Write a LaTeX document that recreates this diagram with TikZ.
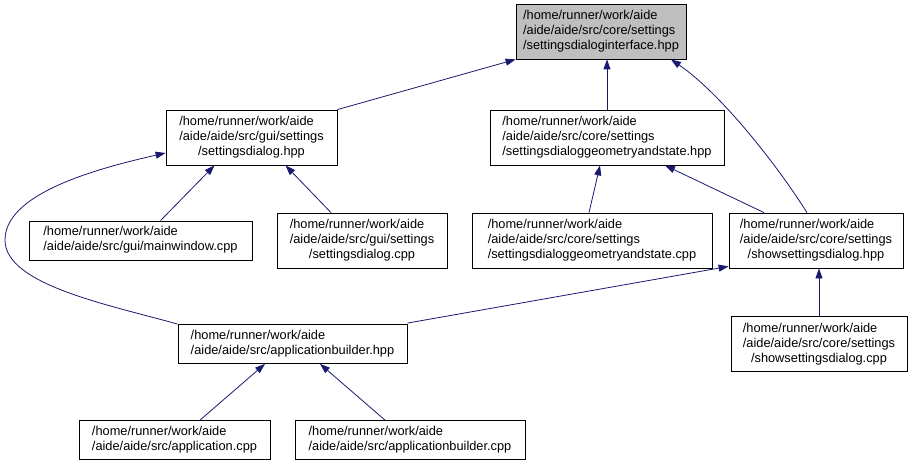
\documentclass[tikz,border=0pt]{standalone}
\usepackage{fontspec}
\setmainfont{Liberation Sans}
\usetikzlibrary{arrows.meta}
\definecolor{edgeblue}{HTML}{191970}
\definecolor{topgray}{HTML}{BFBFBF}
\newcommand{\threel}[3]{\begin{tabular}{@{}l@{}}#1\\#2\\\multicolumn{1}{@{}c@{}}{#3}\end{tabular}}
\newcommand{\twol}[2]{\begin{tabular}{@{}l@{}}#1\\\multicolumn{1}{@{}c@{}}{#2}\end{tabular}}
\tikzset{
  filebox/.style={draw=black, line width=0.8pt, fill=white, inner sep=0pt,
    minimum height=55pt, font=\fontsize{12.8}{15}\selectfont},
  twobox/.style={filebox, minimum height=39pt},
  dep/.style={draw=edgeblue, line width=0.8pt, -{Triangle[length=10pt,width=7pt]}, edgeblue}
}
\begin{document}
\begin{tikzpicture}[x=1pt,y=-1pt]
\useasboundingbox (0,0) rectangle (914,468);
% nodes
\node[filebox, fill=topgray, minimum width=170pt] (top) at (601,31.5)
  {\threel{/home/runner/work/aide}{/aide/aide/src/core/settings}{/settingsdialoginterface.hpp}};
\node[filebox, minimum width=171pt] (sdh) at (251.5,137.5)
  {\threel{/home/runner/work/aide}{/aide/aide/src/gui/settings}{/settingsdialog.hpp}};
\node[filebox, minimum width=234pt] (gash) at (607,137.5)
  {\threel{/home/runner/work/aide}{/aide/aide/src/core/settings}{/settingsdialoggeometryandstate.hpp}};
\node[twobox, minimum width=223pt] (mw) at (140.5,240.5)
  {\twol{/home/runner/work/aide}{/aide/aide/src/gui/mainwindow.cpp}};
\node[filebox, minimum width=170pt] (sdc) at (362,240.5)
  {\threel{/home/runner/work/aide}{/aide/aide/src/gui/settings}{/settingsdialog.cpp}};
\node[filebox, minimum width=240pt] (gasc) at (592,240.5)
  {\threel{/home/runner/work/aide}{/aide/aide/src/core/settings}{/settingsdialoggeometryandstate.cpp}};
\node[filebox, minimum width=174pt] (showh) at (816,240.5)
  {\threel{/home/runner/work/aide}{/aide/aide/src/core/settings}{/showsettingsdialog.hpp}};
\node[twobox, minimum width=229pt] (abh) at (292.5,344)
  {\twol{/home/runner/work/aide}{/aide/aide/src/applicationbuilder.hpp}};
\node[filebox, minimum width=176pt] (showc) at (819,344)
  {\threel{/home/runner/work/aide}{/aide/aide/src/core/settings}{/showsettingsdialog.cpp}};
\node[twobox, minimum width=191pt] (appc) at (174.5,440)
  {\twol{/home/runner/work/aide}{/aide/aide/src/application.cpp}};
\node[twobox, minimum width=230pt] (abc) at (410,440)
  {\twol{/home/runner/work/aide}{/aide/aide/src/applicationbuilder.cpp}};
% edges
\draw[dep] (sdh.north east) -- (top.south west);
\draw[dep] (gash.north) -- (gash.north |- top.south);
\draw[dep] ([xshift=-9pt]showh.north) .. controls (775,162) and (720,93) .. ([xshift=70pt]top.south);
\draw[dep] ([xshift=20pt]mw.north) -- ([xshift=-37pt]sdh.south);
\draw[dep] ([xshift=-31pt]sdc.north) -- ([xshift=34pt]sdh.south);
\draw[dep] (abh.north west) .. controls (110,305) and (5,285) .. (5,240)
  .. controls (5,195) and (90,170) .. ([yshift=-15.5pt]sdh.west);
\draw[dep] ([xshift=-3pt]gasc.north) -- ([xshift=-7pt]gash.south);
\draw[dep] ([xshift=-52pt]showh.north) -- ([xshift=58pt]gash.south);
\draw[dep] ([yshift=1pt]abh.north east) -- ([yshift=2pt]showh.south west);
\draw[dep] (showc.north) -- (showc.north |- showh.south);
\draw[dep] ([xshift=25.5pt]appc.north) -- ([xshift=-27.5pt]abh.south);
\draw[dep] ([xshift=-25pt]abc.north) -- ([xshift=27.5pt]abh.south);
\end{tikzpicture}
\end{document}
